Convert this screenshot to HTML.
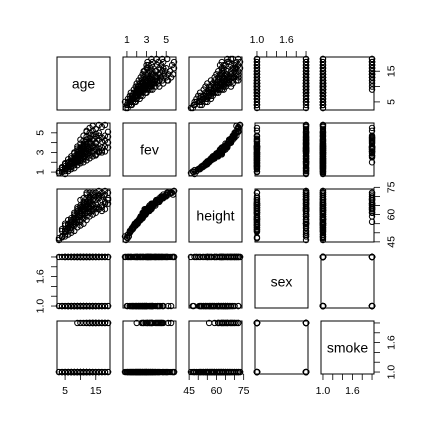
<!DOCTYPE html>
<html><head><meta charset="utf-8"><style>
html,body{margin:0;padding:0;background:#fff;}
svg{display:block;font-family:"Liberation Sans",Arial,sans-serif;}
</style></head><body>
<svg id="chart" width="432" height="432" viewBox="0 0 432 432" xmlns="http://www.w3.org/2000/svg"></svg>
<script>
const varNames = ["age","fev","height","sex","smoke"];
const age = [3,4,4,5,5,5,5,6,6,6,6,6,7,7,7,7,7,8,8,8,8,8,8,9,9,9,9,9,9,9,10,10,10,10,10,10,10,10,11,11,11,11,11,11,11,11,12,12,12,12,12,12,12,13,13,13,13,13,13,13,14,14,14,14,14,14,15,15,15,15,15,15,16,16,16,16,17,17,17,17,18,18,18,19,19,19,3,4,5,14,16,12,
 4,5,6,6,7,7,8,8,8,9,9,9,9,10,10,10,10,10,11,11,11,11,11,12,12,12,12,12,13,13,13,13,14,14,14,15,15,15,16,16,17,17,18,18,19,5,6,7,8,9,10,11,12,13,7,8,9,10,11,9];
const fev = [1.07,1.2,1.4,1.1,1.6,1.3,1.8,1.3,1.7,2.0,1.5,1.9,1.6,2.1,1.8,2.4,1.5,2.0,2.3,2.6,1.9,2.9,1.7,2.2,2.5,2.8,3.2,2.0,2.4,3.4,2.4,2.7,3.0,3.5,2.2,3.9,2.6,3.2,2.6,3.0,3.4,3.8,2.3,4.2,2.9,3.3,2.8,3.1,3.6,4.1,2.5,4.6,3.3,3.0,3.4,3.9,4.5,2.7,5.0,3.6,3.1,3.7,4.2,2.9,4.8,3.5,3.3,4.0,4.6,2.8,5.4,3.6,3.4,4.3,5.0,3.0,3.5,4.5,5.6,3.2,3.6,4.7,5.8,3.5,5.1,4.0,0.9,1.0,0.8,5.7,5.8,5.1,
 1.5,1.9,2.3,1.1,2.6,1.3,3.0,1.4,2.4,3.6,1.7,2.7,2.1,4.3,1.9,3.3,2.8,2.1,4.7,2.0,3.6,3.1,2.5,5.2,2.2,3.8,4.3,2.9,5.5,2.4,4.1,3.2,5.2,2.6,4.4,4.9,2.7,3.9,4.7,3.1,4.1,3.0,4.2,3.1,4.6,1.4,1.6,2.0,2.2,2.6,2.9,3.5,3.9,4.4,1.9,2.1,3.0,3.4,3.7,2.3];
const height = [47,48,51,49,52,50.5,54,51,53,55,52.5,54.5,53,56,55,57,51.5,56,57.5,59,55,60,54,57,59,61,62,56,58.5,63,59,60,62,64,57,65,61,63,60,62,64,66,58,67,63,65,61,63,65,67,59,69,64,62,64,67,69,61,70,66,63,66,68,62,70,65,64,68,70,63,72,66,64,69,71,63,65,70,72,64,66,71,73,66,72,68,46,47.5,48,71,73,72,
 52,55,57,49,58,50,61,51,58,64,53,59,56,68,54,62,60,56,69,55,65,62,58,71,57,66,67,61,72,59,67,63,72,60,68,70,61,66,70,63,68,62,67,63,69,51,53,55,56,59,61,63,66,68,54,55,61,64,65,57];
const sex = [1,2,1,2,1,1,2,1,2,1,2,1,1,2,1,2,1,1,2,1,2,2,1,1,2,1,2,1,1,2,1,2,1,2,1,2,1,2,1,2,1,2,1,2,1,2,1,2,1,2,1,2,1,1,2,2,2,1,2,1,1,2,2,1,2,1,1,2,2,1,2,1,1,2,2,1,1,2,2,1,1,2,2,1,2,2,2,1,2,2,2,2,
 1,2,1,2,1,2,1,2,1,2,1,2,1,2,1,2,1,2,1,2,1,2,1,2,1,2,1,2,1,2,1,2,1,2,1,2,1,2,1,2,1,2,1,2,1,2,1,2,1,2,1,2,1,2,1,2,1,2,1,2];
const smoke = [1,1,1,1,1,1,1,1,1,1,1,1,1,1,1,1,1,1,1,1,1,1,1,1,1,1,1,2,1,1,1,1,1,1,1,1,2,1,1,1,1,1,1,1,2,1,1,1,1,1,2,1,2,1,1,1,2,2,1,1,2,1,2,1,1,2,2,1,2,1,1,2,2,2,1,1,2,2,1,1,2,2,1,2,1,2,1,1,1,1,1,1,
 1,1,1,1,1,1,1,1,1,1,1,1,1,1,1,1,1,1,1,1,1,1,1,1,1,1,1,1,2,1,2,1,2,1,2,1,2,2,1,2,1,2,1,2,1,1,1,1,1,1,1,1,1,1,1,1,1,1,1,1];
const columns = [age,fev,height,sex,smoke];
const tickVals = [[5,10,15],[1,2,3,4,5],[45,50,55,60,65,70,75],[1.0,1.2,1.4,1.6,1.8,2.0],[1.0,1.2,1.4,1.6,1.8,2.0]];
const tickLabels = [["5","15"],["1","3","5"],["45","60","75"],["1.0","1.6"],["1.0","1.6"]];

const svg = document.getElementById('chart');
const NS = "http://www.w3.org/2000/svg";
const P0 = 57, STEP = 66, W = 53;
function mk(tag, attrs, parent){ const e=document.createElementNS(NS,tag); for(const k in attrs) e.setAttribute(k,attrs[k]); (parent||svg).appendChild(e); return e; }
function domain(a){ const mn=Math.min(...a), mx=Math.max(...a), r=mx-mn; return [mn-0.04*r, mx+0.04*r]; }
const doms = columns.map(domain);
function sx(j,v){ const d=doms[j]; return P0+j*STEP+(v-d[0])/(d[1]-d[0])*W; }
function sy(i,v){ const d=doms[i]; return P0+i*STEP+W-(v-d[0])/(d[1]-d[0])*W; }

for(let i=0;i<5;i++){
  for(let j=0;j<5;j++){
    const g = mk('g',{});
    
    
    const x0=P0+j*STEP, y0=P0+i*STEP;
    if(i===j){
      const t = mk('text',{x:x0+W/2,y:y0+W/2+5,'text-anchor':'middle','font-size':14,fill:'#000'},g);
      t.textContent = varNames[i];
      
      
    } else {
      const xs=columns[j], ys=columns[i];
      for(let k=0;k<xs.length;k++){
        const c = mk('circle',{cx:sx(j,xs[k]).toFixed(2),cy:sy(i,ys[k]).toFixed(2),r:2.7,fill:'none',stroke:'#000','stroke-width':1},g);
        
        
      }
    }
    const b = mk('rect',{x:x0,y:y0,width:W,height:W,fill:'none',stroke:'#000','stroke-width':1},g);
    
    
  }
}

function drawAxis(v, side){
  const g = mk('g',{stroke:'#000','stroke-width':0.8});
  
  
  const tv = tickVals[v], TL=6;
  const horiz = (side==='top'||side==='bottom');
  const base = side==='top' ? P0 : side==='bottom' ? P0+4*STEP+W : side==='left' ? P0 : P0+4*STEP+W;
  const dir = (side==='top'||side==='left') ? -1 : 1;
  const pos = t => horiz ? sx(v,t) : sy(v,t);
  const a=pos(tv[0]), bb=pos(tv[tv.length-1]);
  if(horiz) mk('line',{x1:a,x2:bb,y1:base,y2:base},g); else mk('line',{y1:a,y2:bb,x1:base,x2:base},g);
  tv.forEach(t=>{ const p=pos(t);
    if(horiz) mk('line',{x1:p,x2:p,y1:base,y2:base+dir*TL},g); else mk('line',{y1:p,y2:p,x1:base,x2:base+dir*TL},g);
  });
  tickLabels[v].forEach(lbl=>{ const p=pos(parseFloat(lbl)); let t;
    if(horiz){ t=mk('text',{x:p,y: side==='top'? base-14 : base+20,'text-anchor':'middle','font-size':10.5,stroke:'none',fill:'#000'},g); }
    else { const xx = base+dir*17; t=mk('text',{x:xx,y:p,'text-anchor':'middle','font-size':10.5,stroke:'none',fill:'#000',transform:'rotate(-90 '+xx+' '+p+')',dy:'0.35em'},g); }
    t.textContent=lbl;
    
    
  });
}
drawAxis(1,'top'); drawAxis(3,'top');
drawAxis(0,'bottom'); drawAxis(2,'bottom'); drawAxis(4,'bottom');
drawAxis(1,'left'); drawAxis(3,'left');
drawAxis(0,'right'); drawAxis(2,'right'); drawAxis(4,'right');
</script>
</body></html>
